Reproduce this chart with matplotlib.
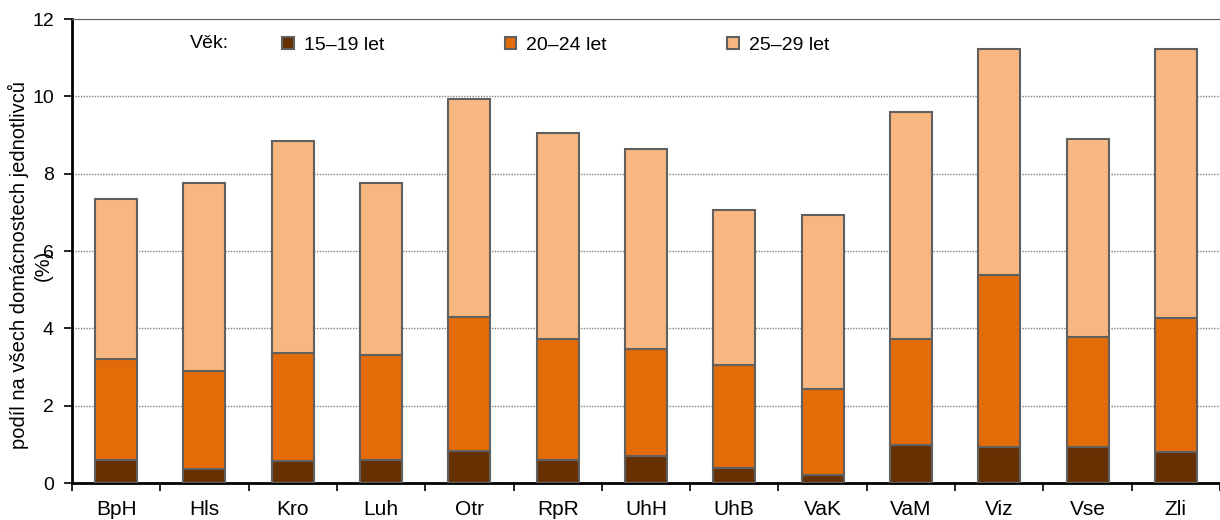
import matplotlib
matplotlib.use("Agg")
import matplotlib.pyplot as plt
import numpy as np
from matplotlib.patches import Patch

plt.rcParams['font.family'] = ['Liberation Sans', 'DejaVu Sans']

categories = ["BpH", "Hls", "Kro", "Luh", "Otr", "RpR", "UhH", "UhB", "VaK", "VaM", "Viz", "Vse", "Zli"]
# cumulative levels
total = [7.35, 7.75, 8.85, 7.75, 9.92, 9.05, 8.63, 7.05, 6.93, 9.60, 11.22, 8.90, 11.22]
upto24 = [3.20, 2.90, 3.35, 3.30, 4.30, 3.72, 3.47, 3.05, 2.42, 3.72, 5.38, 3.78, 4.28]
age_15_19 = [0.60, 0.35, 0.57, 0.60, 0.82, 0.60, 0.70, 0.40, 0.20, 0.98, 0.93, 0.93, 0.80]
age_20_24 = [b - a for a, b in zip(age_15_19, upto24)]
age_25_29 = [t - b for b, t in zip(upto24, total)]
series_labels = ["15–19 let", "20–24 let", "25–29 let"]
colors = ["#663000", "#E36C09", "#F8B680"]

fig = plt.figure(figsize=(12.2, 5.2), dpi=100)
ax = fig.add_axes([72/1220, 1 - 483/520, 1 - 72/1220, (483-19)/520])

x = np.arange(len(categories))
bottom = np.zeros(len(categories))
for vals, c, lab in zip([age_15_19, age_20_24, age_25_29], colors, series_labels):
    ax.bar(x, vals, bottom=bottom, width=0.475, color=c, edgecolor="#606060", linewidth=1.5, label=lab, zorder=3)
    bottom += np.array(vals)

ax.set_xlim(-0.5, len(categories) - 0.5)
ax.set_ylim(0, 12)
ax.set_yticks(range(0, 13, 2))
ax.yaxis.grid(True, linestyle=(0, (1, 1)), color="#808080", linewidth=1, zorder=0)
ax.set_xticks(x)
ax.set_xticklabels(categories)
ax.set_xticks(np.arange(-0.5, len(categories), 1), minor=True)
ax.tick_params(axis='x', which='major', length=0, pad=12, labelsize=15)
ax.tick_params(axis='x', which='minor', length=6, width=1.2, direction='out')
ax.tick_params(axis='y', length=6, width=1.2, labelsize=14, pad=7)
ax.spines['right'].set_visible(False)
ax.spines['top'].set_color("#606060")
ax.spines['left'].set_linewidth(2)
ax.spines['bottom'].set_linewidth(2)

ylab_y = 1 - 265/520
fig.text(18.5/1220, ylab_y, "podíl na všech domácnostech jednotlivců", fontsize=14.5,
         rotation=90, ha='center', va='center')
fig.text(43.5/1220, ylab_y, "(%)", fontsize=14.5, rotation=90, ha='center', va='center')

handles = [Patch(facecolor=c, edgecolor="#606060", linewidth=1.5) for c in colors]
leg = ax.legend(handles, series_labels, ncol=3, loc='upper left', bbox_to_anchor=(0.168, 1.0),
                frameon=False, fontsize=14, handlelength=0.6, handleheight=0.6,
                columnspacing=6.2, handletextpad=0.5)
fig.text(190/1220, 1 - 43/520, "Věk:", fontsize=14, va='center', ha='left')

fig.savefig("out.png", dpi=100)
